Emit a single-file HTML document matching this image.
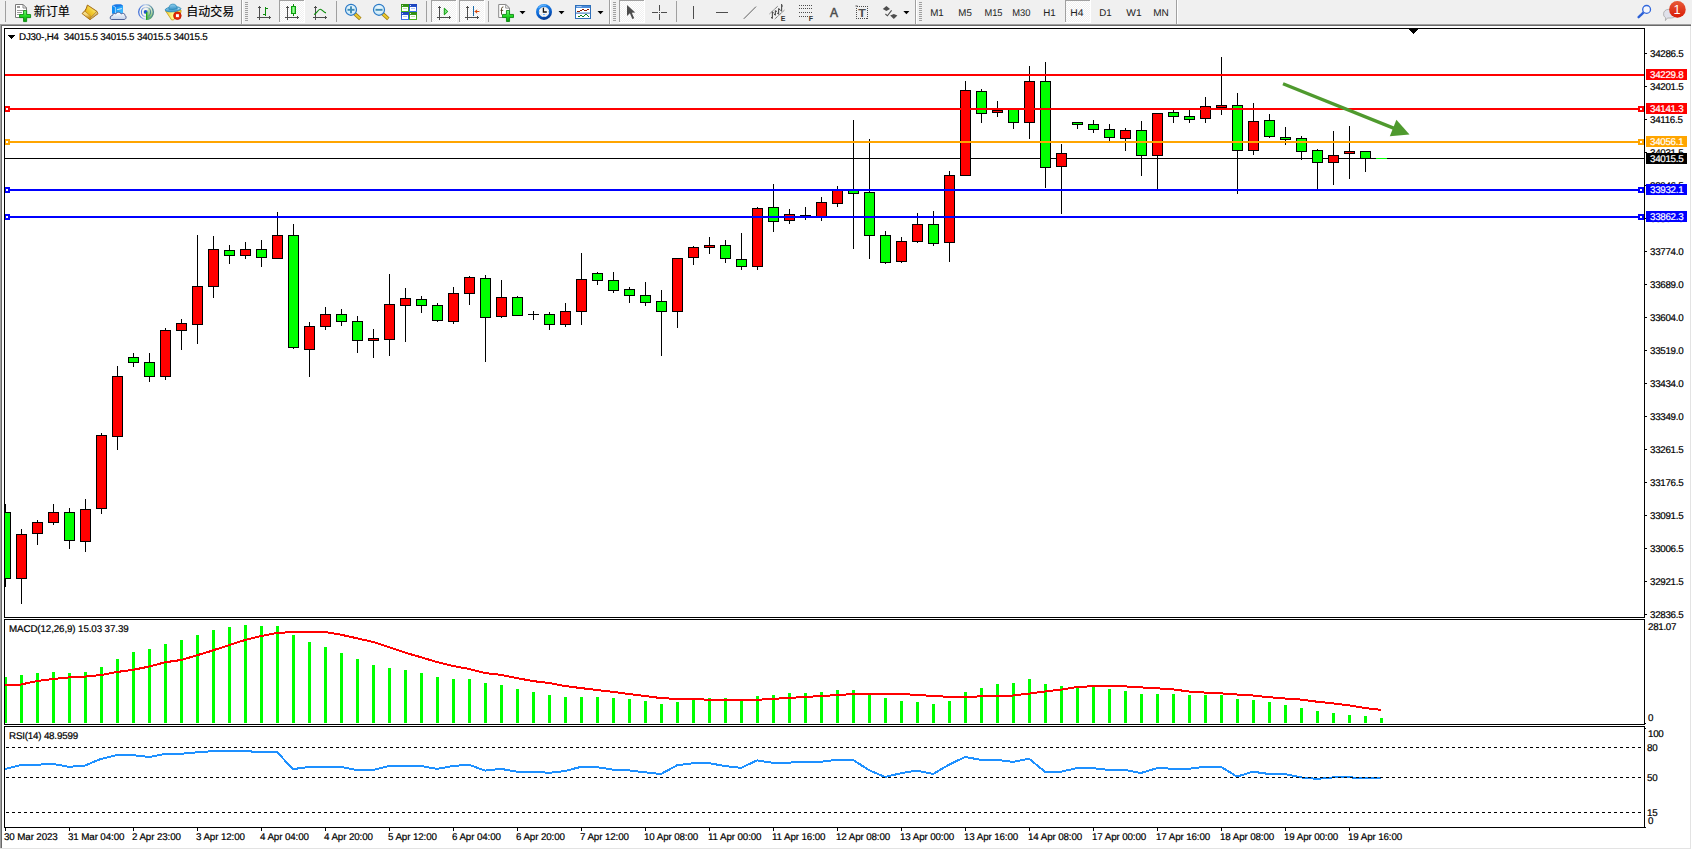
<!DOCTYPE html>
<html><head><meta charset="utf-8"><title>DJ30 H4</title>
<style>
html,body{margin:0;padding:0;background:#fff;}
body{width:1692px;height:850px;position:relative;overflow:hidden;font-family:"Liberation Sans","Noto Sans CJK SC",sans-serif;}
#tb{position:absolute;left:0;top:0;width:1692px;height:24px;background:#f0f0f0;}
.fr{position:absolute;}
.ax,.tag,.dt,.lbl{position:absolute;font-size:9.8px;line-height:12px;height:12px;white-space:nowrap;color:#000;letter-spacing:-0.3px;-webkit-text-stroke:0.2px currentColor;text-rendering:geometricPrecision;}
.ax{left:1650px;transform:translateY(0.45px);}
.tag{left:1646px;width:37px;padding-left:4px;height:11px;line-height:13px;color:#fff;overflow:hidden;}
.dt{top:832px;letter-spacing:-0.12px;}
.lbl{}
</style></head><body>
<div id="tb"></div>
<div class="fr" style="left:0;top:24px;width:1691px;height:1px;background:#a0a0a0"></div>
<div class="fr" style="left:0;top:25px;width:1691px;height:1px;background:#696969"></div>
<div class="fr" style="left:0;top:24px;width:1px;height:825px;background:#a0a0a0"></div>
<div class="fr" style="left:1px;top:25px;width:1px;height:824px;background:#696969"></div>
<div class="fr" style="left:1690px;top:26px;width:1px;height:823px;background:#e3e3e3"></div>
<div class="fr" style="left:0;top:848px;width:1691px;height:1px;background:#e3e3e3"></div>
<div class="fr" style="left:0;top:849px;width:1692px;height:1px;background:#fff"></div>
<svg id="chart" width="1692" height="850" viewBox="0 0 1692 850" shape-rendering="crispEdges" style="position:absolute;left:0;top:0">
<defs><clipPath id="cm"><rect x="5" y="29" width="1639" height="588"/></clipPath></defs>
<rect x="5" y="158" width="1639" height="1" fill="#000"/>
<g clip-path="url(#cm)">
<rect x="5" y="504" width="1" height="83" fill="#000"/>
<rect x="0" y="512" width="11" height="67" fill="#000"/>
<rect x="1" y="513" width="9" height="65" fill="#00ff00"/>
<rect x="21" y="529" width="1" height="75" fill="#000"/>
<rect x="16" y="534" width="11" height="45" fill="#000"/>
<rect x="17" y="535" width="9" height="43" fill="#ff0000"/>
<rect x="37" y="520" width="1" height="25" fill="#000"/>
<rect x="32" y="522" width="11" height="12" fill="#000"/>
<rect x="33" y="523" width="9" height="10" fill="#ff0000"/>
<rect x="53" y="504" width="1" height="21" fill="#000"/>
<rect x="48" y="512" width="11" height="11" fill="#000"/>
<rect x="49" y="513" width="9" height="9" fill="#ff0000"/>
<rect x="69" y="508" width="1" height="41" fill="#000"/>
<rect x="64" y="512" width="11" height="29" fill="#000"/>
<rect x="65" y="513" width="9" height="27" fill="#00ff00"/>
<rect x="85" y="499" width="1" height="53" fill="#000"/>
<rect x="80" y="509" width="11" height="33" fill="#000"/>
<rect x="81" y="510" width="9" height="31" fill="#ff0000"/>
<rect x="101" y="433" width="1" height="81" fill="#000"/>
<rect x="96" y="435" width="11" height="74" fill="#000"/>
<rect x="97" y="436" width="9" height="72" fill="#ff0000"/>
<rect x="117" y="366" width="1" height="84" fill="#000"/>
<rect x="112" y="376" width="11" height="61" fill="#000"/>
<rect x="113" y="377" width="9" height="59" fill="#ff0000"/>
<rect x="133" y="353" width="1" height="14" fill="#000"/>
<rect x="128" y="357" width="11" height="6" fill="#000"/>
<rect x="129" y="358" width="9" height="4" fill="#00ff00"/>
<rect x="149" y="353" width="1" height="29" fill="#000"/>
<rect x="144" y="362" width="11" height="15" fill="#000"/>
<rect x="145" y="363" width="9" height="13" fill="#00ff00"/>
<rect x="165" y="328" width="1" height="52" fill="#000"/>
<rect x="160" y="330" width="11" height="47" fill="#000"/>
<rect x="161" y="331" width="9" height="45" fill="#ff0000"/>
<rect x="181" y="319" width="1" height="31" fill="#000"/>
<rect x="176" y="323" width="11" height="8" fill="#000"/>
<rect x="177" y="324" width="9" height="6" fill="#ff0000"/>
<rect x="197" y="235" width="1" height="109" fill="#000"/>
<rect x="192" y="286" width="11" height="39" fill="#000"/>
<rect x="193" y="287" width="9" height="37" fill="#ff0000"/>
<rect x="213" y="236" width="1" height="62" fill="#000"/>
<rect x="208" y="249" width="11" height="38" fill="#000"/>
<rect x="209" y="250" width="9" height="36" fill="#ff0000"/>
<rect x="229" y="245" width="1" height="19" fill="#000"/>
<rect x="224" y="250" width="11" height="6" fill="#000"/>
<rect x="225" y="251" width="9" height="4" fill="#00ff00"/>
<rect x="245" y="242" width="1" height="17" fill="#000"/>
<rect x="240" y="249" width="11" height="7" fill="#000"/>
<rect x="241" y="250" width="9" height="5" fill="#ff0000"/>
<rect x="261" y="240" width="1" height="27" fill="#000"/>
<rect x="256" y="249" width="11" height="9" fill="#000"/>
<rect x="257" y="250" width="9" height="7" fill="#00ff00"/>
<rect x="277" y="212" width="1" height="47" fill="#000"/>
<rect x="272" y="235" width="11" height="24" fill="#000"/>
<rect x="273" y="236" width="9" height="22" fill="#ff0000"/>
<rect x="293" y="224" width="1" height="125" fill="#000"/>
<rect x="288" y="235" width="11" height="113" fill="#000"/>
<rect x="289" y="236" width="9" height="111" fill="#00ff00"/>
<rect x="309" y="322" width="1" height="55" fill="#000"/>
<rect x="304" y="326" width="11" height="24" fill="#000"/>
<rect x="305" y="327" width="9" height="22" fill="#ff0000"/>
<rect x="325" y="307" width="1" height="23" fill="#000"/>
<rect x="320" y="314" width="11" height="13" fill="#000"/>
<rect x="321" y="315" width="9" height="11" fill="#ff0000"/>
<rect x="341" y="309" width="1" height="17" fill="#000"/>
<rect x="336" y="314" width="11" height="8" fill="#000"/>
<rect x="337" y="315" width="9" height="6" fill="#00ff00"/>
<rect x="357" y="316" width="1" height="37" fill="#000"/>
<rect x="352" y="321" width="11" height="20" fill="#000"/>
<rect x="353" y="322" width="9" height="18" fill="#00ff00"/>
<rect x="373" y="329" width="1" height="29" fill="#000"/>
<rect x="368" y="338" width="11" height="3" fill="#000"/>
<rect x="369" y="339" width="9" height="1" fill="#ff0000"/>
<rect x="389" y="274" width="1" height="82" fill="#000"/>
<rect x="384" y="304" width="11" height="36" fill="#000"/>
<rect x="385" y="305" width="9" height="34" fill="#ff0000"/>
<rect x="405" y="288" width="1" height="54" fill="#000"/>
<rect x="400" y="298" width="11" height="8" fill="#000"/>
<rect x="401" y="299" width="9" height="6" fill="#ff0000"/>
<rect x="421" y="296" width="1" height="17" fill="#000"/>
<rect x="416" y="299" width="11" height="7" fill="#000"/>
<rect x="417" y="300" width="9" height="5" fill="#00ff00"/>
<rect x="437" y="303" width="1" height="19" fill="#000"/>
<rect x="432" y="305" width="11" height="16" fill="#000"/>
<rect x="433" y="306" width="9" height="14" fill="#00ff00"/>
<rect x="453" y="287" width="1" height="37" fill="#000"/>
<rect x="448" y="293" width="11" height="29" fill="#000"/>
<rect x="449" y="294" width="9" height="27" fill="#ff0000"/>
<rect x="469" y="276" width="1" height="29" fill="#000"/>
<rect x="464" y="277" width="11" height="17" fill="#000"/>
<rect x="465" y="278" width="9" height="15" fill="#ff0000"/>
<rect x="485" y="275" width="1" height="87" fill="#000"/>
<rect x="480" y="278" width="11" height="40" fill="#000"/>
<rect x="481" y="279" width="9" height="38" fill="#00ff00"/>
<rect x="501" y="280" width="1" height="38" fill="#000"/>
<rect x="496" y="297" width="11" height="20" fill="#000"/>
<rect x="497" y="298" width="9" height="18" fill="#ff0000"/>
<rect x="517" y="296" width="1" height="20" fill="#000"/>
<rect x="512" y="297" width="11" height="19" fill="#000"/>
<rect x="513" y="298" width="9" height="17" fill="#00ff00"/>
<rect x="533" y="311" width="1" height="9" fill="#000"/>
<rect x="528" y="314" width="11" height="1" fill="#000"/>
<rect x="549" y="312" width="1" height="18" fill="#000"/>
<rect x="544" y="314" width="11" height="11" fill="#000"/>
<rect x="545" y="315" width="9" height="9" fill="#00ff00"/>
<rect x="565" y="303" width="1" height="24" fill="#000"/>
<rect x="560" y="311" width="11" height="14" fill="#000"/>
<rect x="561" y="312" width="9" height="12" fill="#ff0000"/>
<rect x="581" y="253" width="1" height="72" fill="#000"/>
<rect x="576" y="279" width="11" height="33" fill="#000"/>
<rect x="577" y="280" width="9" height="31" fill="#ff0000"/>
<rect x="597" y="272" width="1" height="13" fill="#000"/>
<rect x="592" y="273" width="11" height="8" fill="#000"/>
<rect x="593" y="274" width="9" height="6" fill="#00ff00"/>
<rect x="613" y="272" width="1" height="21" fill="#000"/>
<rect x="608" y="280" width="11" height="11" fill="#000"/>
<rect x="609" y="281" width="9" height="9" fill="#00ff00"/>
<rect x="629" y="287" width="1" height="16" fill="#000"/>
<rect x="624" y="289" width="11" height="7" fill="#000"/>
<rect x="625" y="290" width="9" height="5" fill="#00ff00"/>
<rect x="645" y="282" width="1" height="24" fill="#000"/>
<rect x="640" y="295" width="11" height="8" fill="#000"/>
<rect x="641" y="296" width="9" height="6" fill="#00ff00"/>
<rect x="661" y="290" width="1" height="66" fill="#000"/>
<rect x="656" y="301" width="11" height="11" fill="#000"/>
<rect x="657" y="302" width="9" height="9" fill="#00ff00"/>
<rect x="677" y="258" width="1" height="70" fill="#000"/>
<rect x="672" y="258" width="11" height="54" fill="#000"/>
<rect x="673" y="259" width="9" height="52" fill="#ff0000"/>
<rect x="693" y="246" width="1" height="19" fill="#000"/>
<rect x="688" y="247" width="11" height="11" fill="#000"/>
<rect x="689" y="248" width="9" height="9" fill="#ff0000"/>
<rect x="709" y="237" width="1" height="17" fill="#000"/>
<rect x="704" y="245" width="11" height="3" fill="#000"/>
<rect x="705" y="246" width="9" height="1" fill="#ff0000"/>
<rect x="725" y="240" width="1" height="23" fill="#000"/>
<rect x="720" y="245" width="11" height="14" fill="#000"/>
<rect x="721" y="246" width="9" height="12" fill="#00ff00"/>
<rect x="741" y="233" width="1" height="37" fill="#000"/>
<rect x="736" y="259" width="11" height="8" fill="#000"/>
<rect x="737" y="260" width="9" height="6" fill="#00ff00"/>
<rect x="757" y="207" width="1" height="63" fill="#000"/>
<rect x="752" y="208" width="11" height="59" fill="#000"/>
<rect x="753" y="209" width="9" height="57" fill="#ff0000"/>
<rect x="773" y="184" width="1" height="48" fill="#000"/>
<rect x="768" y="207" width="11" height="15" fill="#000"/>
<rect x="769" y="208" width="9" height="13" fill="#00ff00"/>
<rect x="789" y="209" width="1" height="15" fill="#000"/>
<rect x="784" y="214" width="11" height="7" fill="#000"/>
<rect x="785" y="215" width="9" height="5" fill="#ff0000"/>
<rect x="805" y="207" width="1" height="13" fill="#000"/>
<rect x="800" y="215" width="11" height="1" fill="#000"/>
<rect x="821" y="197" width="1" height="24" fill="#000"/>
<rect x="816" y="202" width="11" height="15" fill="#000"/>
<rect x="817" y="203" width="9" height="13" fill="#ff0000"/>
<rect x="837" y="186" width="1" height="21" fill="#000"/>
<rect x="832" y="189" width="11" height="15" fill="#000"/>
<rect x="833" y="190" width="9" height="13" fill="#ff0000"/>
<rect x="853" y="120" width="1" height="129" fill="#000"/>
<rect x="848" y="189" width="11" height="5" fill="#000"/>
<rect x="849" y="190" width="9" height="3" fill="#00ff00"/>
<rect x="869" y="139" width="1" height="120" fill="#000"/>
<rect x="864" y="192" width="11" height="44" fill="#000"/>
<rect x="865" y="193" width="9" height="42" fill="#00ff00"/>
<rect x="885" y="231" width="1" height="33" fill="#000"/>
<rect x="880" y="235" width="11" height="28" fill="#000"/>
<rect x="881" y="236" width="9" height="26" fill="#00ff00"/>
<rect x="901" y="237" width="1" height="26" fill="#000"/>
<rect x="896" y="241" width="11" height="21" fill="#000"/>
<rect x="897" y="242" width="9" height="19" fill="#ff0000"/>
<rect x="917" y="213" width="1" height="30" fill="#000"/>
<rect x="912" y="224" width="11" height="18" fill="#000"/>
<rect x="913" y="225" width="9" height="16" fill="#ff0000"/>
<rect x="933" y="211" width="1" height="35" fill="#000"/>
<rect x="928" y="224" width="11" height="20" fill="#000"/>
<rect x="929" y="225" width="9" height="18" fill="#00ff00"/>
<rect x="949" y="171" width="1" height="91" fill="#000"/>
<rect x="944" y="175" width="11" height="68" fill="#000"/>
<rect x="945" y="176" width="9" height="66" fill="#ff0000"/>
<rect x="965" y="81" width="1" height="95" fill="#000"/>
<rect x="960" y="90" width="11" height="86" fill="#000"/>
<rect x="961" y="91" width="9" height="84" fill="#ff0000"/>
<rect x="981" y="89" width="1" height="34" fill="#000"/>
<rect x="976" y="91" width="11" height="23" fill="#000"/>
<rect x="977" y="92" width="9" height="21" fill="#00ff00"/>
<rect x="997" y="101" width="1" height="16" fill="#000"/>
<rect x="992" y="110" width="11" height="3" fill="#000"/>
<rect x="993" y="111" width="9" height="1" fill="#ff0000"/>
<rect x="1013" y="109" width="1" height="20" fill="#000"/>
<rect x="1008" y="109" width="11" height="14" fill="#000"/>
<rect x="1009" y="110" width="9" height="12" fill="#00ff00"/>
<rect x="1029" y="66" width="1" height="73" fill="#000"/>
<rect x="1024" y="81" width="11" height="42" fill="#000"/>
<rect x="1025" y="82" width="9" height="40" fill="#ff0000"/>
<rect x="1045" y="62" width="1" height="126" fill="#000"/>
<rect x="1040" y="81" width="11" height="87" fill="#000"/>
<rect x="1041" y="82" width="9" height="85" fill="#00ff00"/>
<rect x="1061" y="144" width="1" height="70" fill="#000"/>
<rect x="1056" y="153" width="11" height="14" fill="#000"/>
<rect x="1057" y="154" width="9" height="12" fill="#ff0000"/>
<rect x="1077" y="122" width="1" height="7" fill="#000"/>
<rect x="1072" y="122" width="11" height="3" fill="#000"/>
<rect x="1073" y="123" width="9" height="1" fill="#00ff00"/>
<rect x="1093" y="120" width="1" height="13" fill="#000"/>
<rect x="1088" y="124" width="11" height="6" fill="#000"/>
<rect x="1089" y="125" width="9" height="4" fill="#00ff00"/>
<rect x="1109" y="124" width="1" height="17" fill="#000"/>
<rect x="1104" y="129" width="11" height="9" fill="#000"/>
<rect x="1105" y="130" width="9" height="7" fill="#00ff00"/>
<rect x="1125" y="128" width="1" height="23" fill="#000"/>
<rect x="1120" y="130" width="11" height="9" fill="#000"/>
<rect x="1121" y="131" width="9" height="7" fill="#ff0000"/>
<rect x="1141" y="121" width="1" height="55" fill="#000"/>
<rect x="1136" y="130" width="11" height="26" fill="#000"/>
<rect x="1137" y="131" width="9" height="24" fill="#00ff00"/>
<rect x="1157" y="113" width="1" height="77" fill="#000"/>
<rect x="1152" y="113" width="11" height="43" fill="#000"/>
<rect x="1153" y="114" width="9" height="41" fill="#ff0000"/>
<rect x="1173" y="110" width="1" height="13" fill="#000"/>
<rect x="1168" y="112" width="11" height="5" fill="#000"/>
<rect x="1169" y="113" width="9" height="3" fill="#00ff00"/>
<rect x="1189" y="110" width="1" height="13" fill="#000"/>
<rect x="1184" y="116" width="11" height="4" fill="#000"/>
<rect x="1185" y="117" width="9" height="2" fill="#00ff00"/>
<rect x="1205" y="97" width="1" height="26" fill="#000"/>
<rect x="1200" y="106" width="11" height="13" fill="#000"/>
<rect x="1201" y="107" width="9" height="11" fill="#ff0000"/>
<rect x="1221" y="57" width="1" height="58" fill="#000"/>
<rect x="1216" y="105" width="11" height="3" fill="#000"/>
<rect x="1217" y="106" width="9" height="1" fill="#ff0000"/>
<rect x="1237" y="93" width="1" height="101" fill="#000"/>
<rect x="1232" y="105" width="11" height="46" fill="#000"/>
<rect x="1233" y="106" width="9" height="44" fill="#00ff00"/>
<rect x="1253" y="103" width="1" height="52" fill="#000"/>
<rect x="1248" y="121" width="11" height="30" fill="#000"/>
<rect x="1249" y="122" width="9" height="28" fill="#ff0000"/>
<rect x="1269" y="114" width="1" height="24" fill="#000"/>
<rect x="1264" y="120" width="11" height="17" fill="#000"/>
<rect x="1265" y="121" width="9" height="15" fill="#00ff00"/>
<rect x="1285" y="127" width="1" height="18" fill="#000"/>
<rect x="1280" y="137" width="11" height="3" fill="#000"/>
<rect x="1281" y="138" width="9" height="1" fill="#00ff00"/>
<rect x="1301" y="136" width="1" height="24" fill="#000"/>
<rect x="1296" y="138" width="11" height="14" fill="#000"/>
<rect x="1297" y="139" width="9" height="12" fill="#00ff00"/>
<rect x="1317" y="149" width="1" height="41" fill="#000"/>
<rect x="1312" y="150" width="11" height="13" fill="#000"/>
<rect x="1313" y="151" width="9" height="11" fill="#00ff00"/>
<rect x="1333" y="131" width="1" height="54" fill="#000"/>
<rect x="1328" y="155" width="11" height="8" fill="#000"/>
<rect x="1329" y="156" width="9" height="6" fill="#ff0000"/>
<rect x="1349" y="126" width="1" height="53" fill="#000"/>
<rect x="1344" y="151" width="11" height="3" fill="#000"/>
<rect x="1345" y="152" width="9" height="1" fill="#ff0000"/>
<rect x="1365" y="151" width="1" height="21" fill="#000"/>
<rect x="1360" y="151" width="11" height="8" fill="#000"/>
<rect x="1361" y="152" width="9" height="6" fill="#00ff00"/>
<rect x="1376" y="158" width="11" height="1" fill="#00ff00"/>
</g>
<rect x="5" y="74" width="1639" height="2" fill="#ff0000"/>
<rect x="5" y="108" width="1639" height="2" fill="#ff0000"/>
<rect x="4" y="106" width="6" height="6" fill="#ff0000"/>
<rect x="6" y="108" width="2" height="2" fill="#fff"/>
<rect x="1638" y="106" width="6" height="6" fill="#ff0000"/>
<rect x="1640" y="108" width="2" height="2" fill="#fff"/>
<rect x="5" y="141" width="1639" height="2" fill="#ffa500"/>
<rect x="4" y="139" width="6" height="6" fill="#ffa500"/>
<rect x="6" y="141" width="2" height="2" fill="#fff"/>
<rect x="1638" y="139" width="6" height="6" fill="#ffa500"/>
<rect x="1640" y="141" width="2" height="2" fill="#fff"/>
<rect x="5" y="189" width="1639" height="2" fill="#0000ff"/>
<rect x="4" y="187" width="6" height="6" fill="#0000ff"/>
<rect x="6" y="189" width="2" height="2" fill="#fff"/>
<rect x="1638" y="187" width="6" height="6" fill="#0000ff"/>
<rect x="1640" y="189" width="2" height="2" fill="#fff"/>
<rect x="5" y="216" width="1639" height="2" fill="#0000ff"/>
<rect x="4" y="214" width="6" height="6" fill="#0000ff"/>
<rect x="6" y="216" width="2" height="2" fill="#fff"/>
<rect x="1638" y="214" width="6" height="6" fill="#0000ff"/>
<rect x="1640" y="216" width="2" height="2" fill="#fff"/>
<g shape-rendering="geometricPrecision"><line x1="1283" y1="83.7" x2="1396" y2="129.1" stroke="#4f9a2e" stroke-width="3.3"/><polygon points="1409.5,134.5 1396.4,119.7 1389.8,136.3" fill="#4f9a2e"/></g>
<rect x="5" y="677" width="2" height="46" fill="#00ff00"/>
<rect x="20" y="675" width="3" height="48" fill="#00ff00"/>
<rect x="36" y="673" width="3" height="50" fill="#00ff00"/>
<rect x="52" y="672" width="3" height="51" fill="#00ff00"/>
<rect x="68" y="673" width="3" height="50" fill="#00ff00"/>
<rect x="84" y="672" width="3" height="51" fill="#00ff00"/>
<rect x="100" y="667" width="3" height="56" fill="#00ff00"/>
<rect x="116" y="659" width="3" height="64" fill="#00ff00"/>
<rect x="132" y="652" width="3" height="71" fill="#00ff00"/>
<rect x="148" y="649" width="3" height="74" fill="#00ff00"/>
<rect x="164" y="644" width="3" height="79" fill="#00ff00"/>
<rect x="180" y="640" width="3" height="83" fill="#00ff00"/>
<rect x="196" y="635" width="3" height="88" fill="#00ff00"/>
<rect x="212" y="630" width="3" height="93" fill="#00ff00"/>
<rect x="228" y="627" width="3" height="96" fill="#00ff00"/>
<rect x="244" y="625" width="3" height="98" fill="#00ff00"/>
<rect x="260" y="626" width="3" height="97" fill="#00ff00"/>
<rect x="276" y="626" width="3" height="97" fill="#00ff00"/>
<rect x="292" y="635" width="3" height="88" fill="#00ff00"/>
<rect x="308" y="642" width="3" height="81" fill="#00ff00"/>
<rect x="324" y="647" width="3" height="76" fill="#00ff00"/>
<rect x="340" y="653" width="3" height="70" fill="#00ff00"/>
<rect x="356" y="659" width="3" height="64" fill="#00ff00"/>
<rect x="372" y="665" width="3" height="58" fill="#00ff00"/>
<rect x="388" y="668" width="3" height="55" fill="#00ff00"/>
<rect x="404" y="670" width="3" height="53" fill="#00ff00"/>
<rect x="420" y="673" width="3" height="50" fill="#00ff00"/>
<rect x="436" y="677" width="3" height="46" fill="#00ff00"/>
<rect x="452" y="679" width="3" height="44" fill="#00ff00"/>
<rect x="468" y="679" width="3" height="44" fill="#00ff00"/>
<rect x="484" y="683" width="3" height="40" fill="#00ff00"/>
<rect x="500" y="685" width="3" height="38" fill="#00ff00"/>
<rect x="516" y="689" width="3" height="34" fill="#00ff00"/>
<rect x="532" y="692" width="3" height="31" fill="#00ff00"/>
<rect x="548" y="695" width="3" height="28" fill="#00ff00"/>
<rect x="564" y="697" width="3" height="26" fill="#00ff00"/>
<rect x="580" y="697" width="3" height="26" fill="#00ff00"/>
<rect x="596" y="697" width="3" height="26" fill="#00ff00"/>
<rect x="612" y="698" width="3" height="25" fill="#00ff00"/>
<rect x="628" y="699" width="3" height="24" fill="#00ff00"/>
<rect x="644" y="701" width="3" height="22" fill="#00ff00"/>
<rect x="660" y="704" width="3" height="19" fill="#00ff00"/>
<rect x="676" y="702" width="3" height="21" fill="#00ff00"/>
<rect x="692" y="700" width="3" height="23" fill="#00ff00"/>
<rect x="708" y="698" width="3" height="25" fill="#00ff00"/>
<rect x="724" y="698" width="3" height="25" fill="#00ff00"/>
<rect x="740" y="700" width="3" height="23" fill="#00ff00"/>
<rect x="756" y="696" width="3" height="27" fill="#00ff00"/>
<rect x="772" y="695" width="3" height="28" fill="#00ff00"/>
<rect x="788" y="693" width="3" height="30" fill="#00ff00"/>
<rect x="804" y="693" width="3" height="30" fill="#00ff00"/>
<rect x="820" y="692" width="3" height="31" fill="#00ff00"/>
<rect x="836" y="690" width="3" height="33" fill="#00ff00"/>
<rect x="852" y="690" width="3" height="33" fill="#00ff00"/>
<rect x="868" y="695" width="3" height="28" fill="#00ff00"/>
<rect x="884" y="698" width="3" height="25" fill="#00ff00"/>
<rect x="900" y="701" width="3" height="22" fill="#00ff00"/>
<rect x="916" y="702" width="3" height="21" fill="#00ff00"/>
<rect x="932" y="704" width="3" height="19" fill="#00ff00"/>
<rect x="948" y="701" width="3" height="22" fill="#00ff00"/>
<rect x="964" y="692" width="3" height="31" fill="#00ff00"/>
<rect x="980" y="688" width="3" height="35" fill="#00ff00"/>
<rect x="996" y="684" width="3" height="39" fill="#00ff00"/>
<rect x="1012" y="683" width="3" height="40" fill="#00ff00"/>
<rect x="1028" y="679" width="3" height="44" fill="#00ff00"/>
<rect x="1044" y="684" width="3" height="39" fill="#00ff00"/>
<rect x="1060" y="686" width="3" height="37" fill="#00ff00"/>
<rect x="1076" y="686" width="3" height="37" fill="#00ff00"/>
<rect x="1092" y="687" width="3" height="36" fill="#00ff00"/>
<rect x="1108" y="689" width="3" height="34" fill="#00ff00"/>
<rect x="1124" y="691" width="3" height="32" fill="#00ff00"/>
<rect x="1140" y="694" width="3" height="29" fill="#00ff00"/>
<rect x="1156" y="694" width="3" height="29" fill="#00ff00"/>
<rect x="1172" y="694" width="3" height="29" fill="#00ff00"/>
<rect x="1188" y="695" width="3" height="28" fill="#00ff00"/>
<rect x="1204" y="695" width="3" height="28" fill="#00ff00"/>
<rect x="1220" y="695" width="3" height="28" fill="#00ff00"/>
<rect x="1236" y="699" width="3" height="24" fill="#00ff00"/>
<rect x="1252" y="700" width="3" height="23" fill="#00ff00"/>
<rect x="1268" y="702" width="3" height="21" fill="#00ff00"/>
<rect x="1284" y="705" width="3" height="18" fill="#00ff00"/>
<rect x="1300" y="708" width="3" height="15" fill="#00ff00"/>
<rect x="1316" y="711" width="3" height="12" fill="#00ff00"/>
<rect x="1332" y="713" width="3" height="10" fill="#00ff00"/>
<rect x="1348" y="715" width="3" height="8" fill="#00ff00"/>
<rect x="1364" y="716" width="3" height="7" fill="#00ff00"/>
<rect x="1380" y="718" width="3" height="5" fill="#00ff00"/>
<polyline points="5,685.5 21,684.5 37,681.0 53,679.0 69,677.4 85,676.6 101,675.0 117,672.0 133,669.8 149,666.6 165,662.3 181,660.0 197,655.3 213,650.4 229,645.1 245,640.0 261,636.0 277,633.0 293,632.0 309,632.0 325,632.0 341,634.7 357,638.3 373,641.9 389,647.2 405,652.6 421,657.2 437,662.1 453,666.0 469,668.9 485,673.0 501,674.9 517,678.1 533,681.1 549,683.0 565,686.0 581,688.1 597,690.0 613,691.9 629,694.0 645,696.0 661,698.1 677,698.9 693,698.9 709,699.8 725,699.8 741,699.8 757,699.8 773,698.9 789,697.9 805,697.0 821,696.0 837,695.1 853,694.0 869,694.0 885,694.0 901,694.0 917,694.9 933,696.0 949,696.8 965,696.8 981,696.4 997,696.0 1013,695.5 1029,693.6 1045,691.5 1061,689.6 1077,687.0 1093,686.2 1109,686.0 1125,686.4 1141,687.4 1157,688.3 1173,689.4 1189,691.5 1205,692.6 1221,693.4 1237,694.5 1253,695.5 1269,697.2 1285,698.5 1301,699.6 1317,701.7 1333,703.4 1349,705.3 1365,708.1 1381,709.8" fill="none" stroke="#ff0000" stroke-width="2" shape-rendering="crispEdges"/>
<polyline points="5,769.1 21,765.1 37,764.7 53,764.0 69,766.8 85,765.5 101,758.9 117,755.1 133,755.1 149,757.0 165,754.0 181,753.8 197,752.3 213,751.1 229,751.1 245,751.1 261,752.1 277,752.1 293,769.1 309,767.0 325,767.0 341,767.0 357,770.1 373,770.0 389,766.0 405,765.5 421,766.0 437,768.9 453,766.0 469,764.7 485,770.6 501,768.9 517,771.7 533,771.7 549,772.8 565,771.1 581,766.8 597,767.2 613,769.6 629,770.4 645,772.3 661,774.0 677,765.3 693,763.2 709,763.2 725,766.0 741,767.9 757,760.4 773,762.8 789,762.6 805,761.9 821,761.7 837,759.8 853,759.8 869,770.2 885,777.0 901,773.2 917,770.6 933,774.0 949,764.7 965,757.0 981,759.8 997,759.8 1013,761.9 1029,758.7 1045,771.7 1061,771.7 1077,768.1 1093,768.1 1109,770.0 1125,770.0 1141,773.0 1157,768.1 1173,768.7 1189,768.7 1205,766.8 1221,766.8 1237,776.6 1253,771.7 1269,774.0 1285,774.0 1301,777.4 1317,778.9 1333,777.4 1349,777.4 1365,777.9 1381,777.9" fill="none" stroke="#1e90ff" stroke-width="2" shape-rendering="crispEdges"/>
<line x1="6" y1="747.5" x2="1642" y2="747.5" stroke="#000" stroke-width="1" stroke-dasharray="3,3"/>
<line x1="6" y1="777.5" x2="1642" y2="777.5" stroke="#000" stroke-width="1" stroke-dasharray="3,3"/>
<line x1="6" y1="812.5" x2="1642" y2="812.5" stroke="#000" stroke-width="1" stroke-dasharray="3,3"/>
<rect x="1645" y="723" width="1" height="1" fill="#000"/>
<rect x="1645" y="728" width="1" height="1" fill="#000"/>
<rect x="1645" y="827" width="1" height="1" fill="#000"/>
<rect x="4" y="28" width="1641" height="1" fill="#000"/>
<rect x="4" y="28" width="1" height="800" fill="#000"/>
<rect x="1644" y="28" width="1" height="800" fill="#000"/>
<rect x="4" y="617" width="1641" height="1" fill="#000"/>
<rect x="4" y="618" width="1641" height="1" fill="#fff"/>
<rect x="4" y="619" width="1641" height="1" fill="#000"/>
<rect x="4" y="724" width="1641" height="1" fill="#000"/>
<rect x="4" y="725" width="1641" height="1" fill="#fff"/>
<rect x="4" y="726" width="1641" height="1" fill="#000"/>
<rect x="4" y="827" width="1641" height="1" fill="#000"/>
<rect x="1645" y="53" width="2" height="1" fill="#000"/>
<rect x="1645" y="86" width="2" height="1" fill="#000"/>
<rect x="1645" y="119" width="2" height="1" fill="#000"/>
<rect x="1645" y="152" width="2" height="1" fill="#000"/>
<rect x="1645" y="185" width="2" height="1" fill="#000"/>
<rect x="1645" y="218" width="2" height="1" fill="#000"/>
<rect x="1645" y="251" width="2" height="1" fill="#000"/>
<rect x="1645" y="284" width="2" height="1" fill="#000"/>
<rect x="1645" y="317" width="2" height="1" fill="#000"/>
<rect x="1645" y="350" width="2" height="1" fill="#000"/>
<rect x="1645" y="383" width="2" height="1" fill="#000"/>
<rect x="1645" y="416" width="2" height="1" fill="#000"/>
<rect x="1645" y="449" width="2" height="1" fill="#000"/>
<rect x="1645" y="482" width="2" height="1" fill="#000"/>
<rect x="1645" y="515" width="2" height="1" fill="#000"/>
<rect x="1645" y="548" width="2" height="1" fill="#000"/>
<rect x="1645" y="581" width="2" height="1" fill="#000"/>
<rect x="1645" y="614" width="2" height="1" fill="#000"/>
<rect x="5" y="828" width="1" height="3" fill="#000"/>
<rect x="69" y="828" width="1" height="3" fill="#000"/>
<rect x="133" y="828" width="1" height="3" fill="#000"/>
<rect x="197" y="828" width="1" height="3" fill="#000"/>
<rect x="261" y="828" width="1" height="3" fill="#000"/>
<rect x="325" y="828" width="1" height="3" fill="#000"/>
<rect x="389" y="828" width="1" height="3" fill="#000"/>
<rect x="453" y="828" width="1" height="3" fill="#000"/>
<rect x="517" y="828" width="1" height="3" fill="#000"/>
<rect x="581" y="828" width="1" height="3" fill="#000"/>
<rect x="645" y="828" width="1" height="3" fill="#000"/>
<rect x="709" y="828" width="1" height="3" fill="#000"/>
<rect x="773" y="828" width="1" height="3" fill="#000"/>
<rect x="837" y="828" width="1" height="3" fill="#000"/>
<rect x="901" y="828" width="1" height="3" fill="#000"/>
<rect x="965" y="828" width="1" height="3" fill="#000"/>
<rect x="1029" y="828" width="1" height="3" fill="#000"/>
<rect x="1093" y="828" width="1" height="3" fill="#000"/>
<rect x="1157" y="828" width="1" height="3" fill="#000"/>
<rect x="1221" y="828" width="1" height="3" fill="#000"/>
<rect x="1285" y="828" width="1" height="3" fill="#000"/>
<rect x="1349" y="828" width="1" height="3" fill="#000"/>
<rect x="1409" y="29" width="9" height="1" fill="#000"/>
<rect x="1410" y="30" width="7" height="1" fill="#000"/>
<rect x="1411" y="31" width="5" height="1" fill="#000"/>
<rect x="1412" y="32" width="3" height="1" fill="#000"/>
<rect x="1413" y="33" width="1" height="1" fill="#000"/>
<rect x="8" y="35" width="7" height="1" fill="#000"/>
<rect x="9" y="36" width="5" height="1" fill="#000"/>
<rect x="10" y="37" width="3" height="1" fill="#000"/>
<rect x="11" y="38" width="1" height="1" fill="#000"/>
</svg>
<div class="ax" style="top:49px">34286.5</div>
<div class="ax" style="top:82px">34201.5</div>
<div class="ax" style="top:115px">34116.5</div>
<div class="ax" style="top:148px">34031.5</div>
<div class="ax" style="top:181px">33946.5</div>
<div class="ax" style="top:214px">33861.5</div>
<div class="ax" style="top:247px">33774.0</div>
<div class="ax" style="top:280px">33689.0</div>
<div class="ax" style="top:313px">33604.0</div>
<div class="ax" style="top:346px">33519.0</div>
<div class="ax" style="top:379px">33434.0</div>
<div class="ax" style="top:412px">33349.0</div>
<div class="ax" style="top:445px">33261.5</div>
<div class="ax" style="top:478px">33176.5</div>
<div class="ax" style="top:511px">33091.5</div>
<div class="ax" style="top:544px">33006.5</div>
<div class="ax" style="top:577px">32921.5</div>
<div class="ax" style="top:610px">32836.5</div>
<div class="tag" style="top:69px;background:#ff0000">34229.8</div>
<div class="tag" style="top:103px;background:#ff0000">34141.3</div>
<div class="tag" style="top:136px;background:#ffa500">34056.1</div>
<div class="tag" style="top:153px;background:#000">34015.5</div>
<div class="tag" style="top:184px;background:#0000ff">33932.1</div>
<div class="tag" style="top:211px;background:#0000ff">33862.3</div>
<div class="ax" style="top:622px;left:1648px">281.07</div>
<div class="ax" style="top:713px;left:1648px">0</div>
<div class="ax" style="top:729px;left:1648px">100</div>
<div class="ax" style="top:743px;left:1647px">80</div>
<div class="ax" style="top:773px;left:1647px">50</div>
<div class="ax" style="top:808px;left:1647px">15</div>
<div class="ax" style="top:816px;left:1648px">0</div>
<div class="dt" style="left:4px">30 Mar 2023</div>
<div class="dt" style="left:68px">31 Mar 04:00</div>
<div class="dt" style="left:132px">2 Apr 23:00</div>
<div class="dt" style="left:196px">3 Apr 12:00</div>
<div class="dt" style="left:260px">4 Apr 04:00</div>
<div class="dt" style="left:324px">4 Apr 20:00</div>
<div class="dt" style="left:388px">5 Apr 12:00</div>
<div class="dt" style="left:452px">6 Apr 04:00</div>
<div class="dt" style="left:516px">6 Apr 20:00</div>
<div class="dt" style="left:580px">7 Apr 12:00</div>
<div class="dt" style="left:644px">10 Apr 08:00</div>
<div class="dt" style="left:708px">11 Apr 00:00</div>
<div class="dt" style="left:772px">11 Apr 16:00</div>
<div class="dt" style="left:836px">12 Apr 08:00</div>
<div class="dt" style="left:900px">13 Apr 00:00</div>
<div class="dt" style="left:964px">13 Apr 16:00</div>
<div class="dt" style="left:1028px">14 Apr 08:00</div>
<div class="dt" style="left:1092px">17 Apr 00:00</div>
<div class="dt" style="left:1156px">17 Apr 16:00</div>
<div class="dt" style="left:1220px">18 Apr 08:00</div>
<div class="dt" style="left:1284px">19 Apr 00:00</div>
<div class="dt" style="left:1348px">19 Apr 16:00</div>
<div class="lbl" style="left:19px;top:32px;letter-spacing:-0.2px">DJ30-,H4&nbsp; 34015.5 34015.5 34015.5 34015.5</div>
<div class="lbl" style="left:9px;top:624px;letter-spacing:-0.12px">MACD(12,26,9) 15.03 37.39</div>
<div class="lbl" style="left:9px;top:731px;letter-spacing:-0.2px">RSI(14) 48.9599</div>
<svg id="tbsvg" width="1692" height="24" viewBox="0 0 1692 24" style="position:absolute;left:0;top:0">
<defs>
<pattern id="chk" width="2" height="2" patternUnits="userSpaceOnUse"><rect width="2" height="2" fill="#f0f0f0"/><rect width="1" height="1" fill="#fff"/><rect x="1" y="1" width="1" height="1" fill="#fff"/></pattern>
<linearGradient id="gplus" x1="0" y1="0" x2="0" y2="1"><stop offset="0" stop-color="#7dfb7d"/><stop offset="0.5" stop-color="#22d822"/><stop offset="1" stop-color="#0a9a0a"/></linearGradient>
<linearGradient id="ggold" x1="1" y1="0.2" x2="0.2" y2="1"><stop offset="0" stop-color="#fff6a8"/><stop offset="0.45" stop-color="#f3cf35"/><stop offset="1" stop-color="#e3a914"/></linearGradient>
<linearGradient id="gblue" x1="0" y1="0" x2="1" y2="1"><stop offset="0" stop-color="#0a8cf4"/><stop offset="1" stop-color="#4cc4ff"/></linearGradient>
<linearGradient id="gcloud" x1="0" y1="0" x2="0" y2="1"><stop offset="0" stop-color="#ffffff"/><stop offset="1" stop-color="#c6d3ea"/></linearGradient>
<linearGradient id="gcand" x1="0" y1="0" x2="1" y2="0"><stop offset="0" stop-color="#2fd62f"/><stop offset="0.5" stop-color="#9dfb9d"/><stop offset="1" stop-color="#2fd62f"/></linearGradient>
<radialGradient id="glens" cx="0.5" cy="0.4" r="0.6"><stop offset="0" stop-color="#f2fbff"/><stop offset="1" stop-color="#c4e6f6"/></radialGradient>
<linearGradient id="gclock" x1="0.2" y1="0" x2="0.6" y2="1"><stop offset="0" stop-color="#2a92f4"/><stop offset="0.6" stop-color="#0a62d0"/><stop offset="1" stop-color="#07409a"/></linearGradient>
<linearGradient id="gred" x1="0" y1="0" x2="0" y2="1"><stop offset="0" stop-color="#e85a38"/><stop offset="1" stop-color="#d81a05"/></linearGradient>
<linearGradient id="ghat" x1="0" y1="0" x2="0" y2="1"><stop offset="0" stop-color="#8fd0ee"/><stop offset="1" stop-color="#3a93c8"/></linearGradient>
<linearGradient id="gtile" x1="0" y1="0" x2="0" y2="1"><stop offset="0" stop-color="#1a3fb8"/><stop offset="1" stop-color="#3a72ec"/></linearGradient>
<linearGradient id="gtileg" x1="0" y1="0" x2="0" y2="1"><stop offset="0" stop-color="#2f8a12"/><stop offset="1" stop-color="#4bb422"/></linearGradient>
<linearGradient id="gspine" x1="0" y1="0" x2="0.4" y2="1"><stop offset="0" stop-color="#fbe9a0"/><stop offset="0.5" stop-color="#f3d77a"/><stop offset="1" stop-color="#c98d16"/></linearGradient>
<linearGradient id="gsig" x1="0" y1="1" x2="0.2" y2="0"><stop offset="0" stop-color="#2ea324" stop-opacity="0.95"/><stop offset="0.55" stop-color="#7fc474" stop-opacity="0.7"/><stop offset="1" stop-color="#cfe6c8" stop-opacity="0.4"/></linearGradient>
<linearGradient id="gring" x1="0" y1="0" x2="1" y2="0"><stop offset="0" stop-color="#3566d6"/><stop offset="0.45" stop-color="#8fb0e8" stop-opacity="0.5"/><stop offset="1" stop-color="#2f6f86" stop-opacity="0.9"/></linearGradient>
<linearGradient id="gface" x1="0" y1="0" x2="1" y2="0"><stop offset="0" stop-color="#f0c623"/><stop offset="0.45" stop-color="#fffb8e"/><stop offset="1" stop-color="#f2cf34"/></linearGradient>
<radialGradient id="gred2" cx="0.5" cy="0.6" r="0.6"><stop offset="0" stop-color="#ff3a14"/><stop offset="1" stop-color="#d42000"/></radialGradient>
</defs>
<rect x="5" y="1" width="1" height="21" fill="#a0a0a0" shape-rendering="crispEdges"/>
<path d="M15.5,4.5 h7.5 l3.5,3.5 v9.5 h-11 z" fill="#fff" stroke="#7b7b7b" stroke-width="1"/>
<path d="M23,4.5 v3.5 h3.5 z" fill="#fff" stroke="#7b7b7b" stroke-width="0.9" stroke-linejoin="round"/>
<g fill="#9a9a9a" shape-rendering="crispEdges"><rect x="17" y="6" width="3" height="2"/><rect x="17" y="10" width="8" height="1"/><rect x="17" y="12" width="5" height="1"/><rect x="17" y="14" width="4" height="1"/></g>
<path d="M23.55,10.6 h3.1 v3.95 h3.95 v3.1 h-3.95 v3.95 h-3.1 v-3.95 h-3.95 v-3.1 h3.95 z" fill="url(#gplus)" stroke="#0c8a12" stroke-width="0.9" stroke-linejoin="round"/>
<text x="33.8" y="15.8" font-family="'Liberation Sans','Noto Sans CJK SC',sans-serif" font-size="12" fill="#000" stroke="#000" stroke-width="0.15">新订单</text>
<path d="M87.4,5 L96.9,11.3 L98,13.7 L90,19.7 L82.1,13.6 Q85.4,10.4 86.2,8.4 Z" fill="#a56c0f" stroke="#a56c0f" stroke-width="0.9" stroke-linejoin="round"/>
<path d="M96.6,11.8 L97.6,13.6 L90.2,19.2 L91.3,16.9 Z" fill="#e9dca2"/>
<path d="M97,12.7 L90.8,17.9 M97.4,13.6 L90.4,18.9" stroke="#b07c1a" stroke-width="0.45" fill="none"/>
<path d="M82.6,13.6 L84.9,11.4 L91.4,16.8 L89.9,19.2 Z" fill="url(#gspine)"/>
<path d="M87.7,5.8 L96.3,11.5 L91.4,16.4 L85.2,11.2 Q86.6,9.4 87,8 Z" fill="url(#ggold)"/>
<path d="M112,5.3 L116,4.2 H121 L122.9,5.6 V13.5 H112 Z" fill="#1a78e6"/>
<path d="M112,5.6 L115.4,7.2 V13.5 H112 Z" fill="#0f8ef4"/>
<path d="M115.4,7.2 L122.9,5.8 V13.5 H115.4 Z" fill="url(#gblue)"/>
<path d="M112.2,5.4 L115.4,7.2 V13.5" stroke="#d6efff" stroke-width="0.7" fill="none"/>
<path d="M117.2,9.6 L121.8,8.6" stroke="#f2faff" stroke-width="0.9" fill="none"/>
<path d="M111.6,19.5 C109.5,19.5 109.6,15.6 112.6,15.4 C112.6,13.6 114.6,13 115.8,13.9 C116.6,11.8 120.2,11.6 121.2,14 C122.6,12.7 125.4,13.4 125,15.6 C126.7,16.2 126.4,19.5 124,19.5 Z" fill="url(#gcloud)" stroke="#3f548c" stroke-width="0.9" stroke-linejoin="round"/>
<circle cx="146" cy="12" r="7.9" fill="#f5f5ee" opacity="0.85"/>
<path d="M146,12 L146,20 A8,8 0 0 0 150.6,5.45 Z" fill="url(#gsig)"/>
<g fill="none"><circle cx="146" cy="12" r="7.3" stroke="url(#gring)" stroke-width="1.2"/><circle cx="146" cy="12" r="4.6" stroke="url(#gring)" stroke-width="1.1" opacity="0.85"/></g>
<circle cx="145.6" cy="11.9" r="1.9" fill="#2457cb"/><rect x="146" y="12.2" width="1.3" height="7.6" fill="#23a81c"/>
<path d="M165.5,10.8 L181,10 L181,12.2 L173.6,19.9 L171.6,19.9 Z" fill="url(#gface)" stroke="#c79a15" stroke-width="0.8" stroke-linejoin="round"/>
<g transform="rotate(-5 173 9)"><ellipse cx="173" cy="9.3" rx="7.9" ry="2.5" fill="url(#ghat)" stroke="#2b87b5" stroke-width="0.8"/>
<path d="M168.9,8.9 Q169,4.1 173,4.1 Q177,4.1 177.2,8.9 Q173,10.2 168.9,8.9 Z" fill="url(#ghat)" stroke="#2b87b5" stroke-width="0.7"/>
<path d="M177.6,9.6 Q179.4,9.2 180,8.2" stroke="#d8f0fb" stroke-width="0.8" fill="none"/></g>
<circle cx="177.4" cy="15.7" r="3.8" fill="url(#gred2)" stroke="#bf1c00" stroke-width="0.8"/><rect x="176" y="14.2" width="2.9" height="2.9" fill="#fff"/>
<text x="186.3" y="15.9" font-family="'Liberation Sans','Noto Sans CJK SC',sans-serif" font-size="12" fill="#000" stroke="#000" stroke-width="0.15">自动交易</text>
<rect x="241" y="0" width="1" height="24" fill="#a0a0a0" shape-rendering="crispEdges"/>
<rect x="242" y="0" width="1" height="24" fill="#fff" shape-rendering="crispEdges"/>
<rect x="245" y="2" width="3" height="1" fill="#a0a0a0" shape-rendering="crispEdges"/>
<rect x="245" y="4" width="3" height="1" fill="#a0a0a0" shape-rendering="crispEdges"/>
<rect x="245" y="6" width="3" height="1" fill="#a0a0a0" shape-rendering="crispEdges"/>
<rect x="245" y="8" width="3" height="1" fill="#a0a0a0" shape-rendering="crispEdges"/>
<rect x="245" y="10" width="3" height="1" fill="#a0a0a0" shape-rendering="crispEdges"/>
<rect x="245" y="12" width="3" height="1" fill="#a0a0a0" shape-rendering="crispEdges"/>
<rect x="245" y="14" width="3" height="1" fill="#a0a0a0" shape-rendering="crispEdges"/>
<rect x="245" y="16" width="3" height="1" fill="#a0a0a0" shape-rendering="crispEdges"/>
<rect x="245" y="18" width="3" height="1" fill="#a0a0a0" shape-rendering="crispEdges"/>
<rect x="245" y="20" width="3" height="1" fill="#a0a0a0" shape-rendering="crispEdges"/>
<g fill="#4d4d4d" shape-rendering="crispEdges"><rect x="259" y="6" width="1" height="14"/><rect x="257" y="17" width="14" height="1"/>
<rect x="258" y="7" width="3" height="1"/><rect x="269" y="16" width="1" height="3"/></g>
<g fill="#0c8c0c" shape-rendering="crispEdges"><rect x="265" y="7" width="1" height="9"/><rect x="266" y="8" width="2" height="1"/><rect x="263" y="14" width="2" height="1"/></g>
<g shape-rendering="crispEdges"><rect x="279" y="0" width="26" height="23" fill="url(#chk)"/>
<rect x="279" y="22" width="26" height="1" fill="#fff"/><rect x="304" y="0" width="1" height="23" fill="#fff"/>
<rect x="279" y="0" width="25" height="1" fill="#a0a0a0"/><rect x="279" y="0" width="1" height="22" fill="#a0a0a0"/></g>
<g fill="#4d4d4d" shape-rendering="crispEdges"><rect x="287" y="6" width="1" height="14"/><rect x="285" y="17" width="14" height="1"/>
<rect x="286" y="7" width="3" height="1"/><rect x="297" y="16" width="1" height="3"/></g>
<rect x="293" y="4" width="1" height="12" fill="#0c8c0c" shape-rendering="crispEdges"/><rect x="291.5" y="6.5" width="4" height="7" fill="url(#gcand)" stroke="#0c9c0c" stroke-width="1"/>
<g fill="#4d4d4d" shape-rendering="crispEdges"><rect x="315" y="6" width="1" height="14"/><rect x="313" y="17" width="14" height="1"/>
<rect x="314" y="7" width="3" height="1"/><rect x="325" y="16" width="1" height="3"/></g>
<path d="M314,14.6 C316.5,13.5 318.2,9.2 320.3,9.3 C322.3,9.4 323.5,12.6 326,12.9" fill="none" stroke="#0c8c0c" stroke-width="1.1"/>
<rect x="336" y="1" width="1" height="21" fill="#a0a0a0" shape-rendering="crispEdges"/>
<path d="M354.6,13.7 L360.3,18.8" stroke="#9c7a10" stroke-width="3.6" stroke-linecap="butt"/>
<path d="M354.9,14 L360,18.5" stroke="#ecc92e" stroke-width="2.2" stroke-linecap="butt"/>
<circle cx="351" cy="9.8" r="5.5" fill="url(#glens)" stroke="#2b79c6" stroke-width="1.2"/>
<rect x="347.5" y="8.85" width="7" height="1.9" fill="#3f8bb6"/>
<rect x="350.05" y="6.3" width="1.9" height="7" fill="#3f8bb6"/>
<path d="M382.6,13.7 L388.3,18.8" stroke="#9c7a10" stroke-width="3.6" stroke-linecap="butt"/>
<path d="M382.9,14 L388,18.5" stroke="#ecc92e" stroke-width="2.2" stroke-linecap="butt"/>
<circle cx="379" cy="9.8" r="5.5" fill="url(#glens)" stroke="#2b79c6" stroke-width="1.2"/>
<rect x="375.5" y="8.85" width="7" height="1.9" fill="#3f8bb6"/>
<g shape-rendering="crispEdges">
<rect x="401" y="4" width="8" height="8" fill="url(#gtileg)"/>
<rect x="402" y="7" width="6" height="4" fill="#fff"/>
<rect x="402" y="5" width="1" height="1" fill="#fff" opacity="0.8"/>
<rect x="403" y="8.3" width="4" height="1" fill="#8fd070" opacity="0.6"/>
<rect x="409" y="4" width="8" height="8" fill="url(#gtile)"/>
<rect x="410" y="7" width="6" height="4" fill="#fff"/>
<rect x="410" y="5" width="1" height="1" fill="#fff" opacity="0.8"/>
<rect x="411" y="8.3" width="4" height="1" fill="#7fa0f0" opacity="0.6"/>
<rect x="401" y="12" width="8" height="8" fill="url(#gtile)"/>
<rect x="402" y="15" width="6" height="4" fill="#fff"/>
<rect x="402" y="13" width="1" height="1" fill="#fff" opacity="0.8"/>
<rect x="403" y="16.3" width="4" height="1" fill="#7fa0f0" opacity="0.6"/>
<rect x="409" y="12" width="8" height="8" fill="url(#gtileg)"/>
<rect x="410" y="15" width="6" height="4" fill="#fff"/>
<rect x="410" y="13" width="1" height="1" fill="#fff" opacity="0.8"/>
<rect x="411" y="16.3" width="4" height="1" fill="#8fd070" opacity="0.6"/>
</g>
<rect x="426" y="1" width="1" height="21" fill="#a0a0a0" shape-rendering="crispEdges"/>
<g shape-rendering="crispEdges"><rect x="431" y="0" width="26" height="23" fill="url(#chk)"/>
<rect x="431" y="22" width="26" height="1" fill="#fff"/><rect x="456" y="0" width="1" height="23" fill="#fff"/>
<rect x="431" y="0" width="25" height="1" fill="#a0a0a0"/><rect x="431" y="0" width="1" height="22" fill="#a0a0a0"/></g>
<g fill="#4d4d4d" shape-rendering="crispEdges"><rect x="439" y="6" width="1" height="14"/><rect x="437" y="17" width="14" height="1"/>
<rect x="438" y="7" width="3" height="1"/><rect x="449" y="16" width="1" height="3"/></g>
<path d="M444.3,8.2 V14.8 L447.8,11.5 Z" fill="#7be07b" stroke="#0ca00c" stroke-width="1" stroke-linejoin="round"/>
<g shape-rendering="crispEdges"><rect x="459" y="0" width="26" height="23" fill="url(#chk)"/>
<rect x="459" y="22" width="26" height="1" fill="#fff"/><rect x="484" y="0" width="1" height="23" fill="#fff"/>
<rect x="459" y="0" width="25" height="1" fill="#a0a0a0"/><rect x="459" y="0" width="1" height="22" fill="#a0a0a0"/></g>
<g fill="#4d4d4d" shape-rendering="crispEdges"><rect x="467" y="6" width="1" height="14"/><rect x="465" y="17" width="14" height="1"/>
<rect x="466" y="7" width="3" height="1"/><rect x="477" y="16" width="1" height="3"/></g>
<rect x="473" y="6" width="1" height="10" fill="#1a6aa8" shape-rendering="crispEdges"/>
<path d="M474.8,11.5 H479.4" stroke="#d8480a" stroke-width="1" fill="none"/><path d="M474.4,11.5 L477.4,9.3 L476.6,11.5 L477.4,13.7 Z" fill="#d8480a"/>
<rect x="488" y="1" width="1" height="21" fill="#a0a0a0" shape-rendering="crispEdges"/>
<path d="M498.7,4.5 h7 l3.8,3.6 v9.4 h-10.8 z" fill="#fff" stroke="#8a8a8a" stroke-width="1"/><path d="M505.7,4.5 v3.6 h3.8 z" fill="#fff" stroke="#8a8a8a" stroke-width="0.9" stroke-linejoin="round"/>
<path d="M503.4,6.9 Q501.6,6.9 501.5,8.8 V14.6 M500.5,10.4 H503.2" fill="none" stroke="#4a3c1c" stroke-width="0.9"/>
<path d="M506.45,10.5 h3.1 v3.95 h3.95 v3.1 h-3.95 v3.95 h-3.1 v-3.95 h-3.95 v-3.1 h3.95 z" fill="url(#gplus)" stroke="#0c8a12" stroke-width="0.9" stroke-linejoin="round"/>
<polygon points="519.5,11 525.5,11 522.5,14.3" fill="#000"/>
<circle cx="544" cy="11.9" r="6.6" fill="#f4f5f7" stroke="url(#gclock)" stroke-width="2.8"/>
<path d="M538.6,8.2 A6.6,6.6 0 0 1 546,5.5" fill="none" stroke="#6ab8ff" stroke-width="1.1" opacity="0.8"/>
<g stroke="#8c9096" stroke-width="0.7"><path d="M544,6.9 v1 M544,15.9 v1 M539,11.9 h1 M548,11.9 h1 M540.5,8.4 l.7,.7 M547.5,8.4 l-.7,.7 M540.5,15.4 l.7,-.7 M547.5,15.4 l-.7,-.7 M541.6,7.3 l.4,.8 M546.4,7.3 l-.4,.8"/></g>
<path d="M543.4,7.8 V12 H546.8" fill="none" stroke="#111" stroke-width="1.3"/><rect x="543" y="14.2" width="2.2" height="0.8" fill="#4aa0ff"/>
<polygon points="558.5,11 564.5,11 561.5,14.3" fill="#000"/>
<rect x="575.5" y="5.5" width="15" height="13" fill="#fff" stroke="#2f6fb9" stroke-width="1"/><rect x="576" y="6" width="14" height="2" fill="#4a8cdc"/><rect x="576.6" y="6.3" width="5" height="0.8" fill="#d6e8ff"/><rect x="576" y="12.6" width="14" height="1" fill="#2f6fb9"/>
<g shape-rendering="crispEdges" fill="#8e1c00"><rect x="577" y="11" width="3" height="1"/><rect x="580" y="10" width="2" height="1"/><rect x="582" y="9" width="2" height="1"/><rect x="584" y="10" width="3" height="1"/><rect x="587" y="9" width="2" height="1"/></g>
<g shape-rendering="crispEdges" fill="#0c7c1c"><rect x="578" y="16" width="2" height="1"/><rect x="580" y="15" width="2" height="1"/><rect x="582" y="16" width="2" height="1"/><rect x="584" y="15" width="1" height="1"/><rect x="585" y="14" width="2" height="1"/><rect x="587" y="15" width="1" height="1"/><rect x="588" y="16" width="1" height="1"/></g>
<polygon points="597.5,11 603.5,11 600.5,14.3" fill="#000"/>
<rect x="609" y="0" width="1" height="24" fill="#a0a0a0" shape-rendering="crispEdges"/>
<rect x="610" y="0" width="1" height="24" fill="#fff" shape-rendering="crispEdges"/>
<rect x="613" y="2" width="3" height="1" fill="#a0a0a0" shape-rendering="crispEdges"/>
<rect x="613" y="4" width="3" height="1" fill="#a0a0a0" shape-rendering="crispEdges"/>
<rect x="613" y="6" width="3" height="1" fill="#a0a0a0" shape-rendering="crispEdges"/>
<rect x="613" y="8" width="3" height="1" fill="#a0a0a0" shape-rendering="crispEdges"/>
<rect x="613" y="10" width="3" height="1" fill="#a0a0a0" shape-rendering="crispEdges"/>
<rect x="613" y="12" width="3" height="1" fill="#a0a0a0" shape-rendering="crispEdges"/>
<rect x="613" y="14" width="3" height="1" fill="#a0a0a0" shape-rendering="crispEdges"/>
<rect x="613" y="16" width="3" height="1" fill="#a0a0a0" shape-rendering="crispEdges"/>
<rect x="613" y="18" width="3" height="1" fill="#a0a0a0" shape-rendering="crispEdges"/>
<rect x="613" y="20" width="3" height="1" fill="#a0a0a0" shape-rendering="crispEdges"/>
<g shape-rendering="crispEdges"><rect x="619" y="0" width="26" height="23" fill="url(#chk)"/>
<rect x="619" y="22" width="26" height="1" fill="#fff"/><rect x="644" y="0" width="1" height="23" fill="#fff"/>
<rect x="619" y="0" width="25" height="1" fill="#a0a0a0"/><rect x="619" y="0" width="1" height="22" fill="#a0a0a0"/></g>
<path d="M627,5 V16 L629.9,13.3 L632.3,19 L634.2,18.2 L631.8,12.7 L635.2,12.5 Z" fill="#4d4d4d"/>
<g fill="#4d4d4d" shape-rendering="crispEdges"><rect x="659" y="5" width="1" height="6"/><rect x="659" y="14" width="1" height="6"/><rect x="652" y="12" width="6" height="1"/><rect x="661" y="12" width="6" height="1"/><rect x="659" y="12" width="1" height="1"/></g>
<rect x="676" y="1" width="1" height="21" fill="#a0a0a0" shape-rendering="crispEdges"/>
<rect x="693" y="6" width="1" height="13" fill="#4d4d4d" shape-rendering="crispEdges"/>
<rect x="716" y="12" width="12" height="1" fill="#4d4d4d" shape-rendering="crispEdges"/>
<path d="M743.8,18.8 L756,6.6" stroke="#4d4d4d" stroke-width="0.9"/>
<g stroke="#4d4d4d" fill="none"><path d="M769.6,13.8 L778,6" stroke-width="0.9" stroke-dasharray="1.2,0.6"/><path d="M774.8,19 L784.4,10.2" stroke-width="0.9" stroke-dasharray="1.2,0.6"/><path d="M772.4,11.4 V18.8 M771,17.6 h1.4 M772.4,12.8 h1.4 M775.4,10.2 V15.6 M774,14.4 h1.4 M775.4,11.4 h1.4 M778.6,8.2 V14.6 M777.2,13.4 h1.4 M778.6,9.4 h1.4 M781.6,4 V11.4 M780.2,10.2 h1.4 M781.6,6 h1.4" stroke-width="1.1"/></g>
<text x="780.8" y="20.9" font-family="'Liberation Sans',sans-serif" font-size="7" font-weight="bold" fill="#333">E</text>
<g stroke="#4d4d4d" stroke-width="1" stroke-dasharray="1,1" shape-rendering="crispEdges"><path d="M799,5.5 H813"/><path d="M799,8.5 H813"/><path d="M799,12.5 H813"/><path d="M799,16.5 H808"/></g>
<text x="808.8" y="20.9" font-family="'Liberation Sans',sans-serif" font-size="7" font-weight="bold" fill="#333">F</text>
<text x="830" y="16.8" font-family="'Liberation Sans',sans-serif" font-size="12" fill="#4d4d4d" stroke="#4d4d4d" stroke-width="0.5">A</text>
<rect x="856.5" y="6.5" width="11" height="12" fill="none" stroke="#4d4d4d" stroke-width="1" stroke-dasharray="1,1" shape-rendering="crispEdges"/><rect x="855.5" y="5.5" width="2" height="1" fill="#4d4d4d"/>
<text x="858.3" y="16.7" textLength="7.6" lengthAdjust="spacingAndGlyphs" font-family="'Liberation Sans',sans-serif" font-size="10.8" font-weight="bold" fill="#4d4d4d">T</text>
<g fill="#4d4d4d"><path d="M886.4,6 L890,9 L886.4,11 L882.8,9 Z"/><path d="M893.8,19 L897.4,15.6 L893.8,14 L890.2,15.6 Z"/></g><path d="M885.4,14 L887.4,15.8 L891.6,10.4" fill="none" stroke="#4d4d4d" stroke-width="1.1"/>
<polygon points="903.4,11 909.4,11 906.4,14.3" fill="#000"/>
<rect x="915" y="0" width="1" height="24" fill="#a0a0a0" shape-rendering="crispEdges"/>
<rect x="916" y="0" width="1" height="24" fill="#fff" shape-rendering="crispEdges"/>
<rect x="919" y="2" width="3" height="1" fill="#a0a0a0" shape-rendering="crispEdges"/>
<rect x="919" y="4" width="3" height="1" fill="#a0a0a0" shape-rendering="crispEdges"/>
<rect x="919" y="6" width="3" height="1" fill="#a0a0a0" shape-rendering="crispEdges"/>
<rect x="919" y="8" width="3" height="1" fill="#a0a0a0" shape-rendering="crispEdges"/>
<rect x="919" y="10" width="3" height="1" fill="#a0a0a0" shape-rendering="crispEdges"/>
<rect x="919" y="12" width="3" height="1" fill="#a0a0a0" shape-rendering="crispEdges"/>
<rect x="919" y="14" width="3" height="1" fill="#a0a0a0" shape-rendering="crispEdges"/>
<rect x="919" y="16" width="3" height="1" fill="#a0a0a0" shape-rendering="crispEdges"/>
<rect x="919" y="18" width="3" height="1" fill="#a0a0a0" shape-rendering="crispEdges"/>
<rect x="919" y="20" width="3" height="1" fill="#a0a0a0" shape-rendering="crispEdges"/>
<g shape-rendering="crispEdges"><rect x="1065" y="0" width="26" height="23" fill="url(#chk)"/>
<rect x="1065" y="22" width="26" height="1" fill="#fff"/><rect x="1090" y="0" width="1" height="23" fill="#fff"/>
<rect x="1065" y="0" width="25" height="1" fill="#a0a0a0"/><rect x="1065" y="0" width="1" height="22" fill="#a0a0a0"/></g>
<text x="930.2" y="16" textLength="13.6" lengthAdjust="spacingAndGlyphs" font-family="'Liberation Sans',sans-serif" font-size="9.8" fill="#222" text-rendering="geometricPrecision">M1</text>
<text x="958.3" y="16" textLength="13.5" lengthAdjust="spacingAndGlyphs" font-family="'Liberation Sans',sans-serif" font-size="9.8" fill="#222" text-rendering="geometricPrecision">M5</text>
<text x="984.4" y="16" textLength="18.1" lengthAdjust="spacingAndGlyphs" font-family="'Liberation Sans',sans-serif" font-size="9.8" fill="#222" text-rendering="geometricPrecision">M15</text>
<text x="1012.3" y="16" textLength="18.2" lengthAdjust="spacingAndGlyphs" font-family="'Liberation Sans',sans-serif" font-size="9.8" fill="#222" text-rendering="geometricPrecision">M30</text>
<text x="1043.2" y="16" textLength="12.5" lengthAdjust="spacingAndGlyphs" font-family="'Liberation Sans',sans-serif" font-size="9.8" fill="#222" text-rendering="geometricPrecision">H1</text>
<text x="1070.3" y="16" textLength="13.2" lengthAdjust="spacingAndGlyphs" font-family="'Liberation Sans',sans-serif" font-size="9.8" fill="#222" text-rendering="geometricPrecision">H4</text>
<text x="1099.2" y="16" textLength="12.5" lengthAdjust="spacingAndGlyphs" font-family="'Liberation Sans',sans-serif" font-size="9.8" fill="#222" text-rendering="geometricPrecision">D1</text>
<text x="1126.3" y="16" textLength="15.4" lengthAdjust="spacingAndGlyphs" font-family="'Liberation Sans',sans-serif" font-size="9.8" fill="#222" text-rendering="geometricPrecision">W1</text>
<text x="1153.2" y="16" textLength="15.6" lengthAdjust="spacingAndGlyphs" font-family="'Liberation Sans',sans-serif" font-size="9.8" fill="#222" text-rendering="geometricPrecision">MN</text>
<rect x="1176" y="0" width="1" height="24" fill="#a0a0a0" shape-rendering="crispEdges"/>
<rect x="1177" y="0" width="1" height="24" fill="#fff" shape-rendering="crispEdges"/>
<path d="M1643.8,12.2 L1638.6,17.2" stroke="#2a5fd6" stroke-width="2.4" stroke-linecap="round" stroke-dasharray="0.9,0.5"/><circle cx="1646.6" cy="9.4" r="3.9" fill="#f4f6fc" stroke="#2f66dc" stroke-width="1.3"/>
<path d="M1663.6,13.6 a4.8,4.2 0 0 1 4.8,-4.2 h3 a4.8,4.2 0 0 1 0,8.6 h-4 l-2,2.6 l0.2,-2.8 a4.6,4.2 0 0 1 -2,-4.2 z" fill="#e0e1ea" stroke="#a6a6a6" stroke-width="0.8"/>
<circle cx="1677.4" cy="9.4" r="8.3" fill="url(#gred)"/>
<text x="1673.6" y="14" font-family="'Liberation Sans',sans-serif" font-size="12.6" fill="#fff">1</text>
</svg>
</body></html>
